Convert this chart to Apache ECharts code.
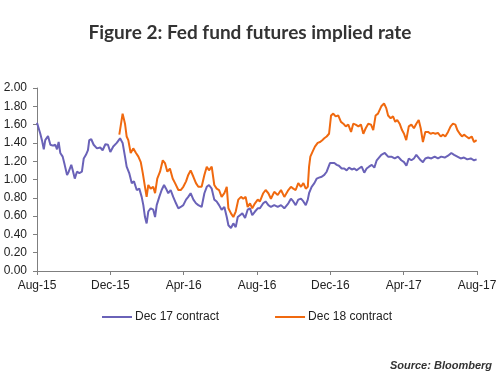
<!DOCTYPE html>
<html>
<head>
<meta charset="utf-8">
<script src="https://cdn.jsdelivr.net/npm/echarts@6/dist/echarts.min.js"></script>
<style>
html,body{margin:0;padding:0;background:#fff;}
#chart{width:500px;height:375px;}
</style>
</head>
<body>
<div id="chart"></div>
<script>
// Tick labels on the x axis (one every 4 months, starting Aug-15)
const tickLabels = ['Aug-15','Dec-15','Apr-16','Aug-16','Dec-16','Apr-17','Aug-17'];
const seriesNames = ['Dec 17 contract','Dec 18 contract'];

// Months elapsed since Aug-15 and implied rate (%), Dec 17 contract
const dec17Months = [0,0.09,0.18,0.27,0.37,0.45,0.60,0.73,0.86,1.00,1.09,1.18,1.27,1.40,1.51,1.64,1.73,1.87,1.95,2.06,2.18,2.31,2.45,2.55,2.67,2.78,2.85,2.96,3.09,3.27,3.45,3.58,3.73,3.87,4.00,4.16,4.35,4.53,4.67,4.80,4.89,5.03,5.17,5.29,5.44,5.58,5.71,5.80,5.89,5.98,6.07,6.20,6.34,6.44,6.53,6.67,6.80,6.93,7.04,7.16,7.29,7.43,7.58,7.71,7.84,7.98,8.13,8.25,8.38,8.53,8.67,8.80,8.98,9.13,9.26,9.38,9.53,9.67,9.80,9.93,10.07,10.22,10.35,10.44,10.58,10.71,10.84,10.95,11.07,11.20,11.35,11.49,11.62,11.74,11.89,12.04,12.16,12.34,12.47,12.62,12.76,12.94,13.13,13.31,13.49,13.71,13.85,13.98,14.11,14.25,14.40,14.53,14.66,14.77,14.84,14.98,15.13,15.26,15.38,15.53,15.67,15.80,15.89,15.98,16.07,16.22,16.35,16.47,16.62,16.76,16.89,17.02,17.17,17.31,17.44,17.56,17.71,17.85,17.98,18.11,18.26,18.40,18.53,18.60,18.78,18.97,19.15,19.33,19.51,19.69,19.87,20.02,20.15,20.28,20.42,20.56,20.69,20.78,20.93,21.05,21.18,21.33,21.51,21.69,21.87,22.05,22.24,22.42,22.60,22.75,22.93,23.11,23.29,23.47,23.66,23.84,23.98];
const dec17Values = [1.62,1.60,1.50,1.43,1.33,1.43,1.475,1.38,1.37,1.38,1.33,1.41,1.29,1.25,1.16,1.05,1.085,1.16,1.10,1.01,1.085,1.07,1.085,1.23,1.27,1.32,1.43,1.44,1.38,1.34,1.35,1.32,1.385,1.38,1.30,1.36,1.40,1.45,1.40,1.25,1.14,1.07,0.96,0.98,0.885,0.90,0.81,0.72,0.59,0.52,0.65,0.685,0.67,0.59,0.72,0.81,0.885,0.94,0.90,0.85,0.885,0.81,0.74,0.685,0.70,0.72,0.78,0.81,0.85,0.78,0.74,0.72,0.70,0.85,0.92,0.94,0.90,0.78,0.76,0.72,0.67,0.70,0.59,0.50,0.47,0.52,0.48,0.59,0.61,0.63,0.58,0.67,0.685,0.61,0.65,0.685,0.685,0.74,0.76,0.72,0.70,0.72,0.70,0.72,0.685,0.74,0.79,0.76,0.72,0.78,0.79,0.76,0.72,0.78,0.85,0.92,0.96,1.01,1.02,1.03,1.05,1.085,1.10,1.18,1.19,1.18,1.16,1.15,1.12,1.12,1.10,1.13,1.11,1.12,1.10,1.12,1.14,1.075,1.12,1.14,1.16,1.13,1.21,1.23,1.27,1.29,1.25,1.25,1.23,1.25,1.21,1.19,1.15,1.23,1.21,1.23,1.27,1.29,1.21,1.19,1.23,1.24,1.23,1.25,1.23,1.25,1.24,1.26,1.29,1.27,1.25,1.23,1.24,1.22,1.23,1.21,1.22];

// Months elapsed since Aug-15 and implied rate (%), Dec 18 contract
const dec18Months = [4.49,4.67,4.80,4.89,4.98,5.11,5.25,5.40,5.53,5.66,5.77,5.89,5.98,6.07,6.20,6.34,6.44,6.56,6.71,6.86,6.98,7.11,7.25,7.40,7.53,7.71,7.84,7.98,8.13,8.25,8.38,8.53,8.67,8.80,8.98,9.13,9.26,9.38,9.53,9.67,9.80,9.93,10.07,10.22,10.35,10.44,10.58,10.71,10.84,10.98,11.13,11.25,11.38,11.49,11.62,11.74,11.89,12.04,12.16,12.34,12.47,12.62,12.76,12.94,13.13,13.31,13.49,13.71,13.85,13.98,14.11,14.25,14.40,14.53,14.66,14.77,14.84,14.91,15.02,15.16,15.31,15.44,15.56,15.67,15.80,15.93,16.04,16.16,16.29,16.43,16.58,16.71,16.84,16.98,17.13,17.25,17.38,17.53,17.67,17.80,17.93,18.07,18.22,18.34,18.47,18.60,18.78,18.93,19.05,19.15,19.29,19.42,19.54,19.65,19.78,19.91,20.02,20.14,20.28,20.42,20.56,20.69,20.82,20.93,21.05,21.18,21.33,21.47,21.60,21.73,21.87,22.02,22.15,22.27,22.42,22.56,22.69,22.82,22.93,23.06,23.18,23.29,23.42,23.56,23.71,23.84,23.98];
const dec18Values = [1.49,1.72,1.61,1.47,1.43,1.29,1.34,1.29,1.25,1.19,1.07,0.92,0.81,0.94,0.90,0.92,0.85,1.01,1.085,1.21,1.18,1.085,1.12,1.01,0.96,0.885,0.885,0.92,0.98,1.05,1.10,1.03,0.96,0.92,0.92,1.05,1.14,1.10,1.14,0.94,0.90,0.885,0.81,0.85,0.92,0.685,0.63,0.59,0.65,0.78,0.81,0.79,0.81,0.70,0.74,0.685,0.74,0.78,0.76,0.85,0.885,0.85,0.79,0.865,0.83,0.885,0.81,0.885,0.92,0.90,0.885,0.96,0.92,0.96,0.90,0.92,1.14,1.25,1.30,1.36,1.40,1.41,1.43,1.45,1.47,1.50,1.70,1.72,1.69,1.70,1.63,1.61,1.58,1.60,1.52,1.61,1.60,1.58,1.60,1.50,1.56,1.61,1.60,1.54,1.70,1.72,1.80,1.83,1.78,1.70,1.67,1.69,1.63,1.65,1.61,1.54,1.50,1.43,1.58,1.60,1.56,1.61,1.65,1.56,1.41,1.52,1.52,1.50,1.51,1.50,1.51,1.47,1.49,1.47,1.52,1.58,1.61,1.60,1.54,1.50,1.47,1.49,1.47,1.45,1.47,1.41,1.43];

const zip = (xs, ys) => xs.map((x, i) => [x, ys[i]]);

const chart = echarts.init(document.getElementById('chart'), null, {renderer: 'canvas'});
const axisFont = {fontFamily: 'Liberation Sans, Arial, sans-serif', fontSize: 12, color: '#222'};

chart.setOption({
  animation: false,
  backgroundColor: '#ffffff',
  title: [{
    text: 'Figure 2: Fed fund futures implied rate',
    left: 'center',
    top: 18,
    textStyle: {fontFamily: 'Lato, sans-serif', fontSize: 19, fontWeight: 'bold', color: '#333333'}
  }, {
    text: 'Source: Bloomberg',
    right: 3,
    top: 355,
    textStyle: {fontFamily: 'Liberation Sans, Arial, sans-serif', fontSize: 11, fontWeight: 'bold', fontStyle: 'italic', color: '#333333'}
  }],
  legend: {
    left: 97,
    top: 306,
    itemWidth: 30,
    itemHeight: 2,
    itemGap: 56,
    icon: 'rect',
    textStyle: {fontFamily: 'Liberation Sans, Arial, sans-serif', fontSize: 12, color: '#222', padding: [0,0,0,-2]},
    data: seriesNames
  },
  grid: {left: 37, right: 23, top: 88, bottom: 104, containLabel: false},
  xAxis: {
    type: 'value',
    min: 0,
    max: 24,
    interval: 4,
    axisLine: {show: true, lineStyle: {color: '#7f7f7f', width: 1}},
    axisTick: {show: true, length: 4, lineStyle: {color: '#7f7f7f'}},
    splitLine: {show: false},
    axisLabel: Object.assign({margin: 9, formatter: v => tickLabels[Math.round(v / 4)]}, axisFont)
  },
  yAxis: {
    type: 'value',
    min: 0,
    max: 2,
    interval: 0.2,
    axisLine: {show: true, lineStyle: {color: '#7f7f7f', width: 1}},
    axisTick: {show: true, length: 4, lineStyle: {color: '#7f7f7f'}},
    splitLine: {show: false},
    axisLabel: Object.assign({margin: 10, formatter: v => v.toFixed(2)}, axisFont)
  },
  series: [{
    name: seriesNames[0],
    type: 'line',
    data: zip(dec17Months, dec17Values),
    symbol: 'none',
    color: '#6a62b8',
    lineStyle: {width: 2, color: '#6a62b8'}
  }, {
    name: seriesNames[1],
    type: 'line',
    data: zip(dec18Months, dec18Values),
    symbol: 'none',
    color: '#f0690f',
    lineStyle: {width: 2, color: '#f0690f'}
  }]
});
</script>
</body>
</html>
